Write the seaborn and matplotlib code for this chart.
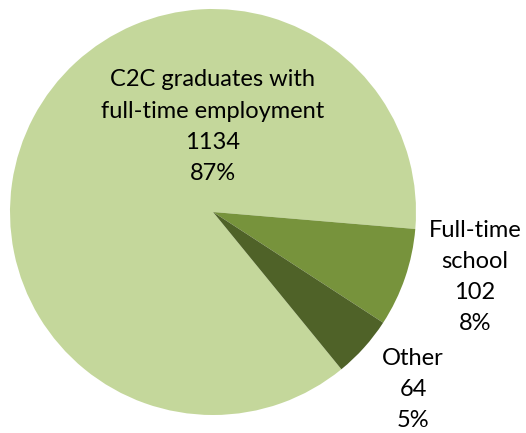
import numpy as np
import matplotlib
matplotlib.use('Agg')
import matplotlib.pyplot as plt
import seaborn as sns

categories = ['C2C graduates with\nfull-time employment', 'Full-time\nschool', 'Other']
counts = [1134, 102, 64]
colors = ['#C4D79B', '#77933C', '#4F6228']
# label anchors in pie units (radius = 1)
label_pos = [(0.0, 0.42), (1.29, -0.32), (0.985, -0.875)]

sns.set_theme(style='white')
plt.rcParams['font.family'] = ['Lato', 'DejaVu Sans']

fig = plt.figure(figsize=(5.26, 4.33), dpi=100)
ax = fig.add_axes([0, 0, 1, 1])

total = sum(counts)
# first wedge ends slightly below 3 o'clock, slices go clockwise
start = -4.8 + counts[0] / total * 360
ax.pie(counts, colors=colors, startangle=start, counterclock=False,
       radius=1, wedgeprops=dict(linewidth=0))

for cat, n, (x, y) in zip(categories, counts, label_pos):
    pct = round(n / total * 100)
    ax.text(x, y, f'{cat}\n{n}\n{pct}%', ha='center', va='center',
            fontsize=17, linespacing=1.6, color='black')

r = 203
ax.set_xlim(-213 / r, (526 - 213) / r)
ax.set_ylim(-(433 - 212) / r, 212 / r)
ax.set_aspect('auto')
ax.axis('off')

fig.savefig('out.png', dpi=100)
